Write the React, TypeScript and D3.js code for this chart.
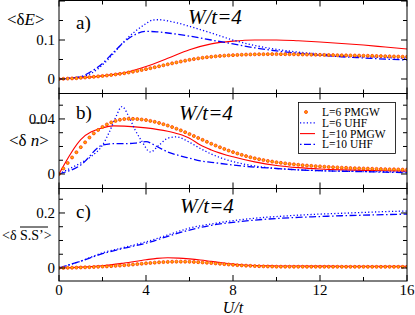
import React from 'react'
import * as d3 from 'd3'

// U/t grid of the PMGW L=6 markers (every 0.2)
const markerU = d3.range(0, 81).map(i => i * 0.2)

// panel a) <dE>
const aL6PMGW = [0, 0.0005, 0.001, 0.0015, 0.002, 0.003,
    0.0038, 0.0047, 0.0056, 0.0067, 0.0078,
    0.009, 0.0103, 0.0117, 0.0132, 0.0148,
    0.0167, 0.0187, 0.0208, 0.023, 0.0253,
    0.0277, 0.0301, 0.0326, 0.0351, 0.0376,
    0.0401, 0.0425, 0.0448, 0.047, 0.0491,
    0.051, 0.0528, 0.0544, 0.0558, 0.057,
    0.0581, 0.0591, 0.0599, 0.0606, 0.0612,
    0.0617, 0.0622, 0.0626, 0.0629, 0.0632,
    0.0634, 0.0636, 0.0637, 0.0638, 0.0638,
    0.0637, 0.0636, 0.0635, 0.0633, 0.0631,
    0.0629, 0.0627, 0.0624, 0.0622, 0.062,
    0.0617, 0.0615, 0.0613, 0.061, 0.0608,
    0.0606, 0.0604, 0.0602, 0.06, 0.0598,
    0.0596, 0.0593, 0.059, 0.0587, 0.0584,
    0.0581, 0.0578, 0.0575, 0.0572, 0.057]
const aL6UHF_U = [0, 0.5, 1, 1.5, 2, 2.5, 3, 3.5, 4, 4.3, 4.6, 5, 5.5, 6, 7, 8, 9, 10, 11, 12, 13, 14, 15, 16]
const aL6UHF = [0, 0.002, 0.005, 0.015, 0.036, 0.065, 0.097, 0.122, 0.142, 0.151, 0.152, 0.149, 0.143, 0.135, 0.118, 0.1, 0.086, 0.076, 0.069, 0.064, 0.06, 0.057, 0.055, 0.053]
const aL10PMGW_U = [0, 1, 2, 3, 4, 5, 6, 7, 8, 9, 10, 11, 12, 13, 14, 15, 16]
const aL10PMGW = [0, 0.003, 0.008, 0.016, 0.032, 0.053, 0.075, 0.09, 0.097, 0.1, 0.1, 0.098, 0.095, 0.091, 0.087, 0.082, 0.077]
const aL10UHF_U = [0, 0.5, 1, 1.5, 2, 2.5, 3, 3.5, 4, 4.5, 5, 6, 7, 8, 9, 10, 11, 12, 13, 14, 15, 16]
const aL10UHF = [0, 0.002, 0.006, 0.02, 0.04, 0.068, 0.095, 0.114, 0.122, 0.121, 0.118, 0.11, 0.1, 0.09, 0.08, 0.072, 0.066, 0.061, 0.057, 0.054, 0.051, 0.049]

// panel b) <d n>
const bL6PMGW = [0, 0.004, 0.008, 0.012, 0.0158, 0.0195,
    0.023, 0.0265, 0.0295, 0.032, 0.0342,
    0.036, 0.0375, 0.0386, 0.0394, 0.0399,
    0.0401, 0.0401, 0.0399, 0.0396, 0.0392,
    0.0386, 0.0379, 0.0371, 0.0362, 0.0352,
    0.0341, 0.0329, 0.0317, 0.0304, 0.029,
    0.0276, 0.0262, 0.0248, 0.0234, 0.022,
    0.0207, 0.0194, 0.0182, 0.017, 0.0159,
    0.0149, 0.0139, 0.013, 0.0122, 0.0114,
    0.0107, 0.0101, 0.0095, 0.009, 0.0085,
    0.0081, 0.0077, 0.0073, 0.007, 0.0067,
    0.0064, 0.0061, 0.0059, 0.0057, 0.0055,
    0.0053, 0.0051, 0.0049, 0.0048, 0.0046,
    0.0045, 0.0043, 0.0042, 0.0041, 0.004,
    0.0039, 0.0038, 0.0037, 0.0036, 0.0035,
    0.0034, 0.0034, 0.0033, 0.0032, 0.0032]
const bL6UHF_U = [0, 0.5, 1, 1.5, 2, 2.3, 2.6, 2.9, 3.2, 3.5, 3.8, 4.2, 4.6, 5, 5.4, 6, 6.5, 7, 8, 9, 10, 11, 12, 14, 16]
const bL6UHF = [0, 0.004, 0.008, 0.013, 0.021, 0.03, 0.041, 0.049, 0.042, 0.032, 0.024, 0.016, 0.021, 0.026, 0.027, 0.023, 0.0185, 0.0145, 0.009, 0.0058, 0.004, 0.003, 0.0024, 0.0018, 0.0015]
const bL10PMGW_U = [0, 1, 2, 2.5, 3, 4, 5, 5.5, 6, 6.5, 7, 8, 9, 10, 11, 12, 13, 14, 15, 16]
const bL10PMGW = [0, 0.025, 0.0335, 0.035, 0.0348, 0.0335, 0.031, 0.029, 0.026, 0.021, 0.0175, 0.0125, 0.0088, 0.0062, 0.0046, 0.0036, 0.003, 0.0026, 0.0023, 0.0021]
const bL10UHF_U = [0, 1, 2, 2.5, 3, 3.5, 4, 4.5, 5, 5.5, 6, 6.5, 7, 8, 9, 10, 11, 12, 13, 14, 15, 16]
const bL10UHF = [0, 0.0065, 0.021, 0.022, 0.022, 0.0225, 0.0235, 0.02, 0.016, 0.0135, 0.0115, 0.0095, 0.0085, 0.0065, 0.005, 0.004, 0.003, 0.0024, 0.002, 0.0017, 0.0013, 0.001]

// panel c) <d S.S'>
const cL6PMGW = [0, 0.0003, 0.0006, 0.001, 0.0014, 0.0019,
    0.0024, 0.003, 0.0036, 0.0043, 0.005,
    0.0058, 0.0067, 0.0077, 0.0088, 0.01,
    0.0113, 0.0127, 0.0141, 0.0155, 0.0169,
    0.0182, 0.0195, 0.0206, 0.0215, 0.0222,
    0.0227, 0.023, 0.0231, 0.023, 0.0226,
    0.022, 0.0212, 0.0202, 0.0191, 0.0179,
    0.0166, 0.0153, 0.014, 0.0127, 0.0115,
    0.0104, 0.0094, 0.0085, 0.0077, 0.007,
    0.0064, 0.0059, 0.0055, 0.0052, 0.0049,
    0.0048, 0.0047, 0.0047, 0.0046, 0.0046,
    0.0046, 0.0045, 0.0045, 0.0045, 0.0045,
    0.0044, 0.0044, 0.0044, 0.0044, 0.0044,
    0.0043, 0.0043, 0.0043, 0.0043, 0.0043,
    0.0043, 0.0042, 0.0042, 0.0042, 0.0042,
    0.0042, 0.0042, 0.0042, 0.0042, 0.0042]
const cUHF_U = [0, 1, 2, 3, 4, 5, 6, 7, 8, 9, 10, 11, 12, 13, 14, 15, 16]
const cL6UHF = [0, 0.025, 0.055, 0.075, 0.095, 0.12, 0.145, 0.16, 0.172, 0.181, 0.187, 0.192, 0.196, 0.199, 0.202, 0.205, 0.207]
const cL10UHF = [0, 0.025, 0.052, 0.072, 0.09, 0.115, 0.138, 0.155, 0.166, 0.174, 0.18, 0.184, 0.187, 0.19, 0.192, 0.194, 0.196]
const cL10PMGW_U = [0, 1, 2, 3, 4, 4.5, 5, 5.5, 6, 6.5, 7, 7.5, 8, 8.5, 9, 10, 11, 12, 13, 14, 15, 16]
const cL10PMGW = [0, 0.003, 0.008, 0.018, 0.03, 0.035, 0.037, 0.036, 0.033, 0.029, 0.024, 0.019, 0.014, 0.011, 0.009, 0.0075, 0.007, 0.0068, 0.0066, 0.0065, 0.0064, 0.0063]

const xTicks = [0, 4, 8, 12, 16]
const xMinor = [2, 6, 10, 14]
const legendNames = ['L=6 PMGW', 'L=6 UHF', 'L=10 PMGW', 'L=10 UHF']

const BLUE = '#0000ff'
const RED = '#ff0000'
const SERIF = "'Liberation Serif', 'Times New Roman', Times, 'DejaVu Serif', serif"

const left = 59, right = 407
const x = d3.scaleLinear().domain([0, 16]).range([left, right])

const zip = (us: number[], vs: number[]) => us.map((u, i) => [u, vs[i]] as [number, number])

const panels = [
    {
        tag: 'a)', top: 0.5, bottom: 93.5, domain: [-0.0372, 0.2013],
        major: [0, 0.1, 0.2], minor: [0.05, 0.15], labels: ['0', '0.1'], labelVals: [0, 0.1],
        tagY: 29, wx: 188, wy: 24,
        markers: aL6PMGW,
        l6uhf: zip(aL6UHF_U, aL6UHF), l10pmgw: zip(aL10PMGW_U, aL10PMGW), l10uhf: zip(aL10UHF_U, aL10UHF),
    },
    {
        tag: 'b)', top: 93.5, bottom: 188.5, domain: [-0.01055, 0.0585],
        major: [0, 0.04], minor: [0.01, 0.02, 0.03, 0.05], labels: ['0', '0.04'], labelVals: [0, 0.04],
        tagY: 119, wx: 179, wy: 120,
        markers: bL6PMGW,
        l6uhf: zip(bL6UHF_U, bL6UHF), l10pmgw: zip(bL10PMGW_U, bL10PMGW), l10uhf: zip(bL10UHF_U, bL10UHF),
    },
    {
        tag: 'c)', top: 188.5, bottom: 281, domain: [-0.0473, 0.289],
        major: [0, 0.2], minor: [0.05, 0.1, 0.15, 0.25], labels: ['0', '0.2'], labelVals: [0, 0.2],
        tagY: 218, wx: 180, wy: 213,
        markers: cL6PMGW,
        l6uhf: zip(cUHF_U, cL6UHF), l10pmgw: zip(cL10PMGW_U, cL10PMGW), l10uhf: zip(cUHF_U, cL10UHF),
    },
]

const Marker = ({ cx, cy }: { cx: number, cy: number }) =>
    <circle cx={cx} cy={cy} r={1.5} fill="#ffb000" stroke="#ff3300" strokeWidth={0.8} />

const App = () => {
    return (
        <svg width={415} height={315} style={{ position: 'absolute', left: 0, top: 0, background: '#fff', fontFamily: SERIF }}>
            {panels.map((p, pi) => {
                const y = d3.scaleLinear().domain(p.domain).range([p.bottom, p.top])
                const line = d3.line<[number, number]>()
                    .x(d => x(d[0])).y(d => y(d[1]))
                    .curve(d3.curveMonotoneX)
                const clipId = `clip${pi}`
                return (
                    <g key={pi}>
                        <clipPath id={clipId}>
                            <rect x={left} y={p.top} width={right - left} height={p.bottom - p.top} />
                        </clipPath>
                        <g clipPath={`url(#${clipId})`}>
                            <path d={line(p.l10pmgw) || ''} fill="none" stroke={RED} strokeWidth={1.1} />
                            <path d={line(p.l6uhf) || ''} fill="none" stroke={BLUE} strokeWidth={1.3} strokeDasharray="1.2,2.2" />
                            <path d={line(p.l10uhf) || ''} fill="none" stroke={BLUE} strokeWidth={1.3} strokeDasharray="7,2.5,1.5,2.5" />
                            {p.markers.map((v, i) => <Marker key={i} cx={x(markerU[i])} cy={y(v)} />)}
                        </g>
                        {/* ticks inward on all four sides */}
                        {xTicks.map(t => (
                            <g key={'xt' + t}>
                                <line x1={x(t)} x2={x(t)} y1={p.bottom} y2={p.bottom - 6} stroke="#000" />
                                <line x1={x(t)} x2={x(t)} y1={p.top} y2={p.top + 6} stroke="#000" />
                            </g>
                        ))}
                        {xMinor.map(t => (
                            <g key={'xm' + t}>
                                <line x1={x(t)} x2={x(t)} y1={p.bottom} y2={p.bottom - 4} stroke="#000" />
                                <line x1={x(t)} x2={x(t)} y1={p.top} y2={p.top + 4} stroke="#000" />
                            </g>
                        ))}
                        {p.major.map(t => (
                            <g key={'yt' + t}>
                                <line x1={left} x2={left + 6} y1={y(t)} y2={y(t)} stroke="#000" />
                                <line x1={right} x2={right - 6} y1={y(t)} y2={y(t)} stroke="#000" />
                            </g>
                        ))}
                        {p.minor.map(t => (
                            <g key={'ym' + t}>
                                <line x1={left} x2={left + 4} y1={y(t)} y2={y(t)} stroke="#000" />
                                <line x1={right} x2={right - 4} y1={y(t)} y2={y(t)} stroke="#000" />
                            </g>
                        ))}
                        {p.labels.map((l, i) => (
                            <text key={'yl' + i} x={55} y={y(p.labelVals[i])} dy="0.35em" textAnchor="end" fontSize={15}>{l}</text>
                        ))}
                        <rect x={left} y={p.top} width={right - left} height={p.bottom - p.top} fill="none" stroke="#000" strokeWidth={1} />
                        <text x={76} y={p.tagY} fontSize={19}>{p.tag}</text>
                        <text x={p.wx} y={p.wy} fontSize={21} fontStyle="italic">W/t=4</text>
                    </g>
                )
            })}

            {/* y axis labels */}
            <text x={7} y={25} fontSize={17}>{'<δ'}<tspan fontStyle="italic">E</tspan>{'>'}</text>
            <text x={9} y={146} fontSize={17}>{'<δ '}<tspan fontStyle="italic">n</tspan>{'>'}</text>
            <line x1={31} x2={45} y1={123} y2={123} stroke="#000" strokeWidth={1} />
            <text x={2} y={240} fontSize={14}>{'<δ S.S’>'}</text>
            <line x1={20} x2={48} y1={227} y2={227} stroke="#000" strokeWidth={1} />

            {/* x tick labels */}
            {xTicks.map(t => (
                <text key={'xl' + t} x={x(t)} y={295} textAnchor="middle" fontSize={15}>{t}</text>
            ))}
            <text x={x(8)} y={313} textAnchor="middle" fontSize={16} fontStyle="italic">U/t</text>

            {/* legend */}
            <g>
                <rect x={298.5} y={102.5} width={97} height={51} fill="#fff" stroke="#000" strokeWidth={0.8} />
                {legendNames.map((n, i) => {
                    const ly = 112 + i * 10.8
                    return (
                        <g key={n}>
                            {i === 0 && <Marker cx={306} cy={ly} />}
                            {i === 1 && <line x1={300} x2={315} y1={ly} y2={ly} stroke={BLUE} strokeWidth={1.3} strokeDasharray="1.2,2.2" />}
                            {i === 2 && <line x1={300} x2={315} y1={ly} y2={ly} stroke={RED} strokeWidth={1.1} />}
                            {i === 3 && <line x1={300} x2={316} y1={ly} y2={ly} stroke={BLUE} strokeWidth={1.3} strokeDasharray="1.5,2.5,7,2.5" />}
                            <text x={322} y={ly} dy="0.35em" fontSize={11.5}>{n}</text>
                        </g>
                    )
                })}
            </g>
        </svg>
    )
}

export default App
